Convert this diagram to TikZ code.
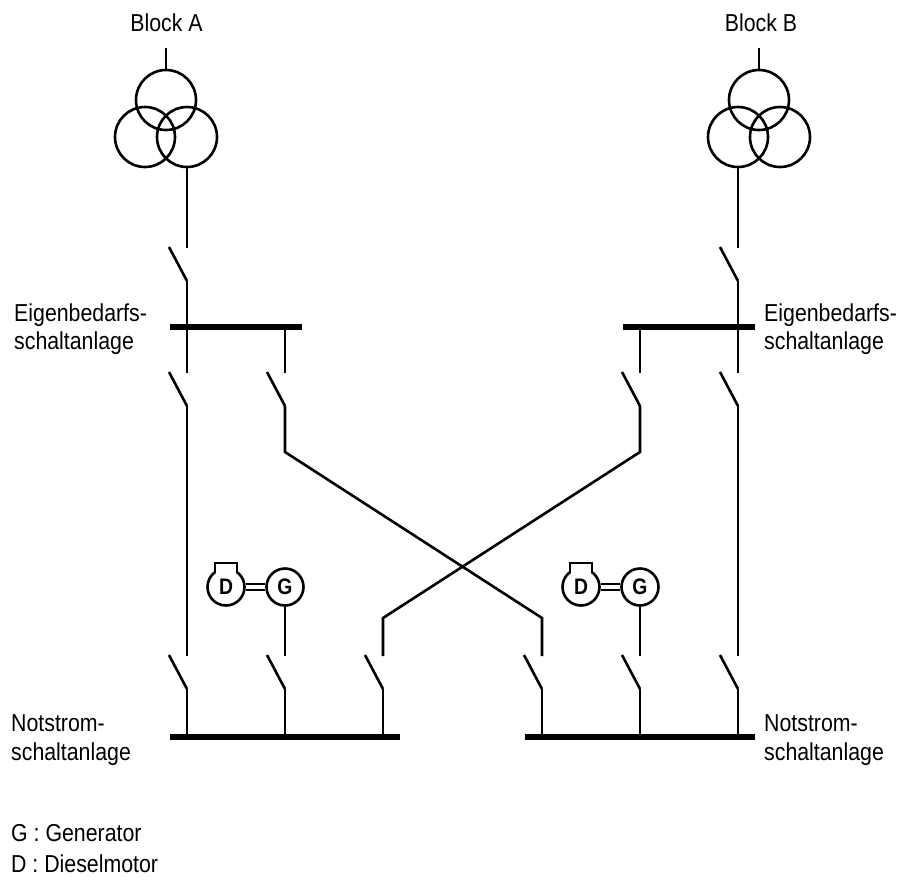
\documentclass[tikz,border=0pt]{standalone}
\usepackage{fontspec}
\setmainfont[FakeStretch=0.87]{Liberation Sans}
\newfontfamily\boldlab[FakeStretch=0.86]{Liberation Sans Bold}
\tikzset{
  wire/.style={line width=2.6pt,line cap=butt,line join=miter},
  bar/.style={line width=6pt},
  winding/.style={circle,draw,line width=2.6pt,minimum size=60pt,inner sep=0pt},
  machine/.style={circle,draw,line width=2.6pt,minimum size=37pt,inner sep=0pt,fill=white,font=\fontsize{22.5}{24}\selectfont\boldlab},
  lab/.style={anchor=base west,inner sep=0pt,font=\fontsize{24.5}{24.5}\selectfont},
  labc/.style={anchor=base,inner sep=0pt,font=\fontsize{24.5}{24.5}\selectfont},
}
\newcommand{\switchblade}[3]{%
  % #1 x of the line, #2 y of the fixed end, #3 name
  \coordinate (#3f) at (#1,#2);
  \coordinate (#3o) at (#1-18,#2-34);
  \coordinate (#3t) at (#1,#2-33);
  \draw[wire] (#3o) -- (#3f);
}
\begin{document}
\begin{tikzpicture}[x=1pt,y=-1pt]
\useasboundingbox (0,0) rectangle (903,881);
% labels
\node[labc] (blocka) at (166.5,31) {Block A};
\node[labc] (blockb) at (761,31) {Block B};
\node[lab] (eiga1) at (14,321) {Eigenbedarfs-};
\node[lab] (eiga2) at (14,349) {schaltanlage};
\node[lab] (eigb1) at (764,321) {Eigenbedarfs-};
\node[lab] (eigb2) at (764,349) {schaltanlage};
\node[lab] (nota1) at (11,731) {Notstrom-};
\node[lab] (nota2) at (11,760) {schaltanlage};
\node[lab] (notb1) at (764,731) {Notstrom-};
\node[lab] (notb2) at (764,760) {schaltanlage};
\node[lab] (legg) at (11,841) {G : Generator};
\node[lab] (legd) at (11,872) {D : Dieselmotor};
% transformers
\node[winding] (tat) at (166,100) {};
\node[winding] (tal) at (145,137) {};
\node[winding] (tar) at (187,137) {};
\node[winding] (tbt) at (759,100) {};
\node[winding] (tbl) at (738,137) {};
\node[winding] (tbr) at (780,137) {};
\coordinate (tain) at (166,48);
\coordinate (tbin) at (759,48);
\draw[wire] (tain) -- (tat.north);
\draw[wire] (tbin) -- (tbt.north);
% switches
\switchblade{187}{281}{sa}
\switchblade{738}{281}{sb}
\switchblade{187}{406}{fa}
\switchblade{285}{406}{fc}
\switchblade{640}{406}{fd}
\switchblade{738}{406}{fb}
\switchblade{187}{689}{na}
\switchblade{285}{689}{ng}
\switchblade{383}{689}{nc}
\switchblade{542}{689}{nd}
\switchblade{640}{689}{nh}
\switchblade{738}{689}{nb}
% busbars
\coordinate (ba1) at (170,327); \coordinate (ba2) at (302,327);
\coordinate (bb1) at (623,327); \coordinate (bb2) at (755,327);
\coordinate (ca1) at (170,737); \coordinate (ca2) at (400,737);
\coordinate (cb1) at (525,737); \coordinate (cb2) at (755,737);
\draw[wire] (tar.south) -- (sat);
\draw[wire] (tbl.south) -- (sbt);
\draw[wire] (saf) -- (187,373);
\draw[wire] (sbf) -- (738,373);
\draw[wire] (285,327) -- (fct);
\draw[wire] (640,327) -- (fdt);
% feeders
\draw[wire] (faf) -- (nat);
\draw[wire] (fbf) -- (nbt);
\coordinate (xa) at (285,452); \coordinate (xb) at (542,618);
\coordinate (xc) at (640,452); \coordinate (xd) at (383,618);
\draw[wire] (fcf) -- (xa) -- (xb) -- (ndt);
\draw[wire] (fdf) -- (xc) -- (xd) -- (nct);
% drops to lower bars
\draw[wire] (naf) -- (187,737);
\draw[wire] (ngf) -- (285,737);
\draw[wire] (ncf) -- (383,737);
\draw[wire] (ndf) -- (542,737);
\draw[wire] (nhf) -- (640,737);
\draw[wire] (nbf) -- (738,737);
\draw[bar] (ba1) -- (ba2);
\draw[bar] (bb1) -- (bb2);
\draw[bar] (ca1) -- (ca2);
\draw[bar] (cb1) -- (cb2);
% diesel sets
\node[machine] (da) at (226,587) {D};
\node[machine] (ga) at (285,587) {G};
\node[machine] (db) at (581,587) {D};
\node[machine] (gb) at (640,587) {G};
\fill[white] (216,564) rectangle (236,574);
\fill[white] (571,564) rectangle (591,574);
\draw[wire] (215,572) -- (215,563) -- (237,563) -- (237,572);
\draw[wire] (570,572) -- (570,563) -- (592,563) -- (592,572);
\draw[line width=1.8pt] ([yshift=-3.3pt]da.east) -- ([yshift=-3.3pt]ga.west);
\draw[line width=1.8pt] ([yshift=3.3pt]da.east) -- ([yshift=3.3pt]ga.west);
\draw[line width=1.8pt] ([yshift=-3.3pt]db.east) -- ([yshift=-3.3pt]gb.west);
\draw[line width=1.8pt] ([yshift=3.3pt]db.east) -- ([yshift=3.3pt]gb.west);
\draw[wire] (ga.south) -- (ngt);
\draw[wire] (gb.south) -- (nht);
\end{tikzpicture}
\end{document}
